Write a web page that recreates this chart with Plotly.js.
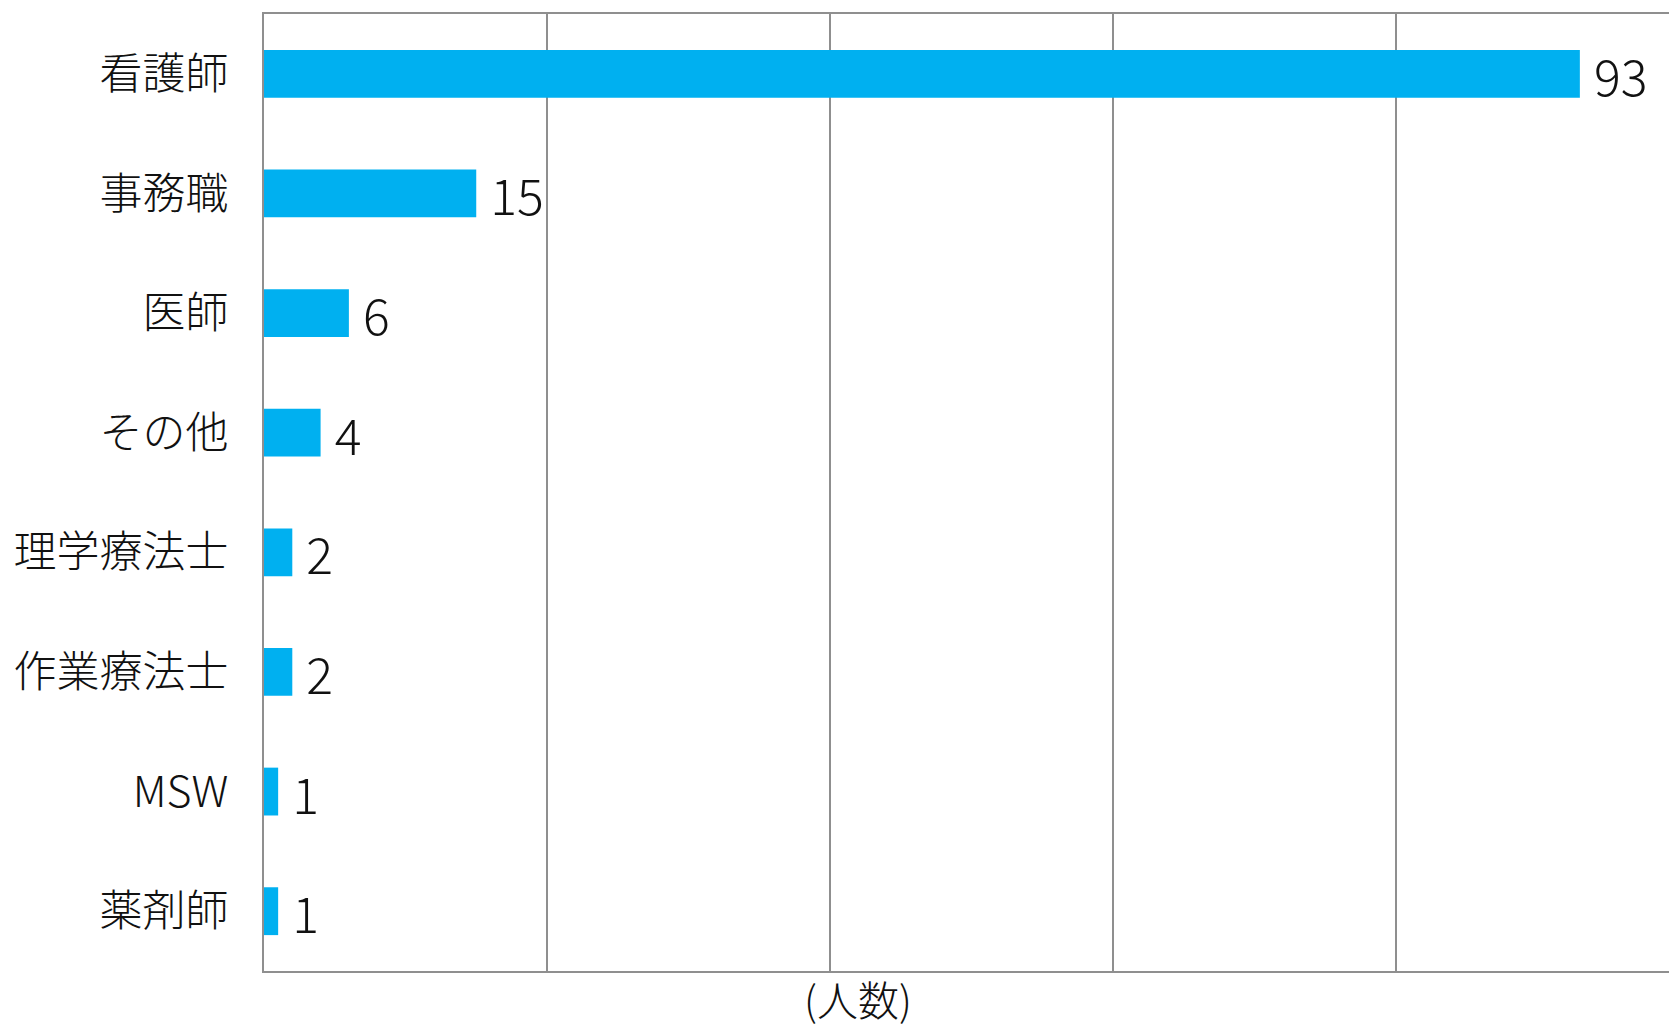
<!DOCTYPE html>
<html>
<head>
<meta charset="utf-8">
<script src="https://cdn.plot.ly/plotly-3.0.1.min.js"></script>
<style>html,body{margin:0;padding:0;background:#fff;}#chart{width:1669px;height:1029px;}</style>
</head>
<body>
<div id="chart"></div>
<script>
var categories = ["看護師", "事務職", "医師", "その他", "理学療法士", "作業療法士", "MSW", "薬剤師"];
var counts = [93, 15, 6, 4, 2, 2, 1, 1];
var axisTitle = "(人数)";

var font = "'Noto Sans CJK JP', 'Noto Sans', sans-serif";

var trace = {
  type: "bar",
  orientation: "h",
  y: categories,
  x: counts,
  text: counts.map(function (v) { return "\u00A0" + v; }),
  textposition: "outside",
  constraintext: "none",
  textfont: {family: font, size: 50, color: "#111", weight: 300},
  cliponaxis: false,
  marker: {color: "#00B0F0"},
  hoverinfo: "none"
};

var layout = {
  width: 1669,
  height: 1029,
  margin: {l: 264, r: 0, t: 14, b: 58},
  paper_bgcolor: "#fff",
  plot_bgcolor: "#fff",
  showlegend: false,
  bargap: 0.6,
  font: {family: font, color: "#111"},
  xaxis: {
    range: [0, 99.3],
    dtick: 20,
    tick0: 0,
    showticklabels: false,
    ticks: "",
    showgrid: true,
    gridcolor: "#8f8f8f",
    gridwidth: 1.5,
    zeroline: false,
    showline: true,
    linecolor: "#8f8f8f",
    linewidth: 2,
    mirror: true,
    fixedrange: true
  },
  yaxis: {
    autorange: "reversed",
    ticks: "",
    ticklabelstandoff: 25,
    tickfont: {family: font, size: 43, color: "#111", weight: 300},
    showgrid: false,
    zeroline: false,
    showline: true,
    linecolor: "#8f8f8f",
    linewidth: 2,
    fixedrange: true
  },
  annotations: [{
    text: axisTitle,
    xref: "x",
    yref: "paper",
    x: 42,
    y: 0,
    yshift: -27,
    yanchor: "middle",
    xanchor: "center",
    borderpad: 0,
    showarrow: false,
    font: {family: font, size: 41, color: "#111", weight: 300}
  }]
};

Plotly.newPlot("chart", [trace], layout, {displayModeBar: false, staticPlot: true});
</script>
</body>
</html>
